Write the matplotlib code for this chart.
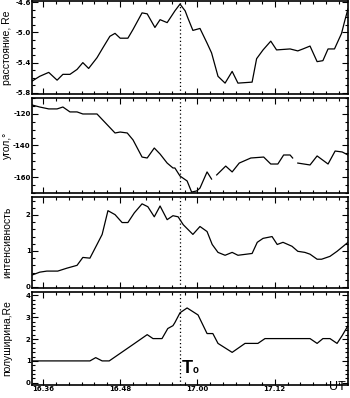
import numpy as np
import matplotlib

matplotlib.use("Agg")
import matplotlib.pyplot as plt
from matplotlib.ticker import MultipleLocator, FixedLocator


# time axis: minutes after 16:00 UT
T_ZERO = 57.3
X_TICKS = [36, 48, 60, 72]
X_TICK_LABELS = ["16.36", "16.48", "17.00", "17.12"]

dist_t = [34.3, 35.5, 36.9, 38.2, 39.1, 40.2, 41.3, 42.2, 43.1, 44.4,
          45.3, 46.4, 47.2, 48.0, 49.2, 50.0, 51.4, 52.2, 53.4, 54.2,
          55.3, 56.2, 56.5, 57.3, 58.1, 58.5, 59.3, 60.4, 61.5, 62.2,
          63.2, 64.3, 65.4, 66.3, 68.5, 69.2, 70.2, 71.4, 72.3, 74.4,
          75.6, 76.4, 77.5, 78.6, 79.5, 80.3, 81.3, 82.4, 82.9, 83.4]
dist_re = [-5.645, -5.581, -5.529, -5.632, -5.555, -5.555, -5.490, -5.400, -5.477, -5.335,
           -5.206, -5.052, -5.013, -5.077, -5.077, -4.961, -4.742, -4.755, -4.935, -4.832,
           -4.871, -4.755, -4.716, -4.626, -4.716, -4.806, -4.974, -4.948, -5.142, -5.271,
           -5.581, -5.671, -5.516, -5.671, -5.658, -5.348, -5.232, -5.116, -5.232, -5.219,
           -5.245, -5.219, -5.181, -5.387, -5.374, -5.219, -5.219, -5.013, -4.845, -4.690]

angle_t = [34.3, 35.5, 36.9, 38.2, 39.1, 40.2, 41.3, 42.2, 43.3, 44.4,
           47.2, 48.0, 49.1, 50.0, 51.4, 52.2, 53.3, 54.2, 55.3, 56.2,
           56.5, 57.3, 58.4, 59.1, 59.9, 60.4, 61.5, 62.2, np.nan, 63.0,
           64.4, 65.4, 66.5, 68.3, 70.3, 71.4, 72.5, 73.4, 74.4, 74.8,
           np.nan, 75.6, 77.5, 78.6, 80.3, 81.4, 82.5, 83.4]
angle_deg = [-114.4, -115.7, -116.9, -116.9, -115.7, -118.8, -118.8, -120.1, -120.1, -120.1,
             -132.1, -131.5, -132.1, -136.5, -147.3, -147.9, -141.6, -145.4, -151.1, -154.2,
             -154.2, -159.3, -162.4, -169.4, -168.7, -166.9, -156.7, -161.2, np.nan, -158.6,
             -153.0, -156.7, -151.1, -147.9, -147.3, -151.7, -151.7, -146.0, -146.0, -147.9,
             np.nan, -151.1, -152.3, -146.6, -151.7, -143.5, -144.1, -146.0]

inten_t = [34.3, 35.5, 36.6, 38.3, 39.7, 41.3, 42.2, 43.3, 44.4, 45.2,
           46.1, 47.2, 48.3, 49.2, 50.2, 51.4, 52.3, 53.3, 54.2, 55.3,
           56.2, 57.0, 57.8, 59.3, 60.4, 61.5, 62.3, 63.2, 64.3, 65.4,
           66.3, 68.5, 69.3, 70.2, 71.6, 72.4, 73.3, 74.7, 75.6, 76.7,
           77.5, 78.6, 79.3, 80.6, 81.7, 83.4]
inten = [0.33, 0.41, 0.44, 0.44, 0.52, 0.60, 0.82, 0.80, 1.18, 1.46,
         2.12, 2.01, 1.79, 1.79, 2.06, 2.31, 2.23, 1.95, 2.25, 1.87,
         1.98, 1.95, 1.73, 1.46, 1.68, 1.54, 1.18, 0.96, 0.88, 0.96,
         0.88, 0.93, 1.24, 1.35, 1.40, 1.18, 1.24, 1.13, 0.99, 0.96,
         0.91, 0.77, 0.77, 0.85, 0.99, 1.24]

width_t = [34.3, 43.3, 44.2, 45.2, 46.3, 50.0, 52.2, 53.1, 54.5, 55.4,
           56.2, 56.5, 57.3, 58.4, 60.1, 61.5, 62.4, 63.2, 65.4, 67.4,
           69.4, 70.5, 77.5, 78.6, 79.5, 80.6, 81.7, 82.5, 83.4]
width_re = [1.0, 1.0, 1.15, 1.0, 1.0, 1.75, 2.20, 2.02, 2.02, 2.48,
            2.61, 2.75, 3.20, 3.42, 3.10, 2.25, 2.25, 1.80, 1.39, 1.80,
            1.80, 2.02, 2.02, 1.80, 2.02, 2.02, 1.80, 2.16, 2.61]

PANELS = [
    dict(t=dist_t, y=dist_re, label="расстояние, Re", ylim=(-5.815, -4.585),
         major=[-5.8, -5.4, -5.0, -4.6], minor=0.1, fmt="{:.1f}",
         rect=(0.7638, 0.2337)),
    dict(t=angle_t, y=angle_deg, label="угол,°", ylim=(-170, -110),
         major=[-160, -140, -120], minor=5, fmt="{:.0f}",
         rect=(0.5151, 0.2387)),
    dict(t=inten_t, y=inten, label="интенсивность", ylim=(-0.03, 2.5),
         major=[0, 1, 2], minor=0.2, fmt="{:.0f}",
         rect=(0.2764, 0.2286)),
    dict(t=width_t, y=width_re, label="полуширина,Re", ylim=(-0.1, 4.15),
         major=[0, 1, 2, 3, 4], minor=0.2, fmt="{:.0f}",
         rect=(0.0327, 0.2337)),
]

LEFT = 32 / 350
WIDTH = 316 / 350
XLIM = (34.3, 83.4)
LABEL_FONT = ["Liberation Sans Narrow", "Liberation Sans", "DejaVu Sans"]


def style_axis(ax, panel, last):
    ax.set_xlim(*XLIM)
    ax.set_ylim(*panel["ylim"])
    ax.xaxis.set_major_locator(FixedLocator(X_TICKS))
    ax.xaxis.set_minor_locator(MultipleLocator(2))
    ax.yaxis.set_major_locator(FixedLocator(panel["major"]))
    ax.yaxis.set_minor_locator(MultipleLocator(panel["minor"]))
    ax.set_yticklabels([panel["fmt"].format(v) for v in panel["major"]])
    if last:
        ax.set_xticklabels(X_TICK_LABELS)
    else:
        ax.set_xticklabels([])
    ax.tick_params(which="both", direction="in", top=True, right=True,
                   labelsize=5.0, pad=1.0, width=0.8, color="black")
    ax.tick_params(which="major", length=4)
    ax.tick_params(which="minor", length=2)
    for lab in ax.get_xticklabels() + ax.get_yticklabels():
        lab.set_fontweight("bold")
    for spine in ax.spines.values():
        spine.set_linewidth(1.2)
    ax.set_ylabel(panel["label"], fontsize=7.5, family=LABEL_FONT)
    ax.yaxis.set_label_coords(-0.062, 0.5)


def main():
    fig = plt.figure(figsize=(3.5, 3.98), dpi=100)
    axes = []
    for i, panel in enumerate(PANELS):
        bottom, height = panel["rect"]
        ax = fig.add_axes([LEFT, bottom, WIDTH, height])
        ax.plot(panel["t"], panel["y"], color="black", linewidth=0.9)
        ax.axvline(T_ZERO, color="black", linestyle=(0, (1, 2)), linewidth=0.9)
        style_axis(ax, panel, last=(i == len(PANELS) - 1))
        axes.append(ax)

    ax4 = axes[-1]
    ax4.text(57.6, 0.45, "T", fontsize=13, fontweight="bold",
             family="Liberation Sans", ha="left", va="baseline")
    ax4.text(59.2, 0.45, "o", fontsize=7, fontweight="bold",
             family="Liberation Sans", ha="left", va="baseline")
    fig.text(0.963, 0.012, "UT", fontsize=9, family="Liberation Sans",
             ha="center", va="bottom")

    fig.savefig("out.png", dpi=100, facecolor="white")
    plt.close(fig)


if __name__ == "__main__":
    main()
